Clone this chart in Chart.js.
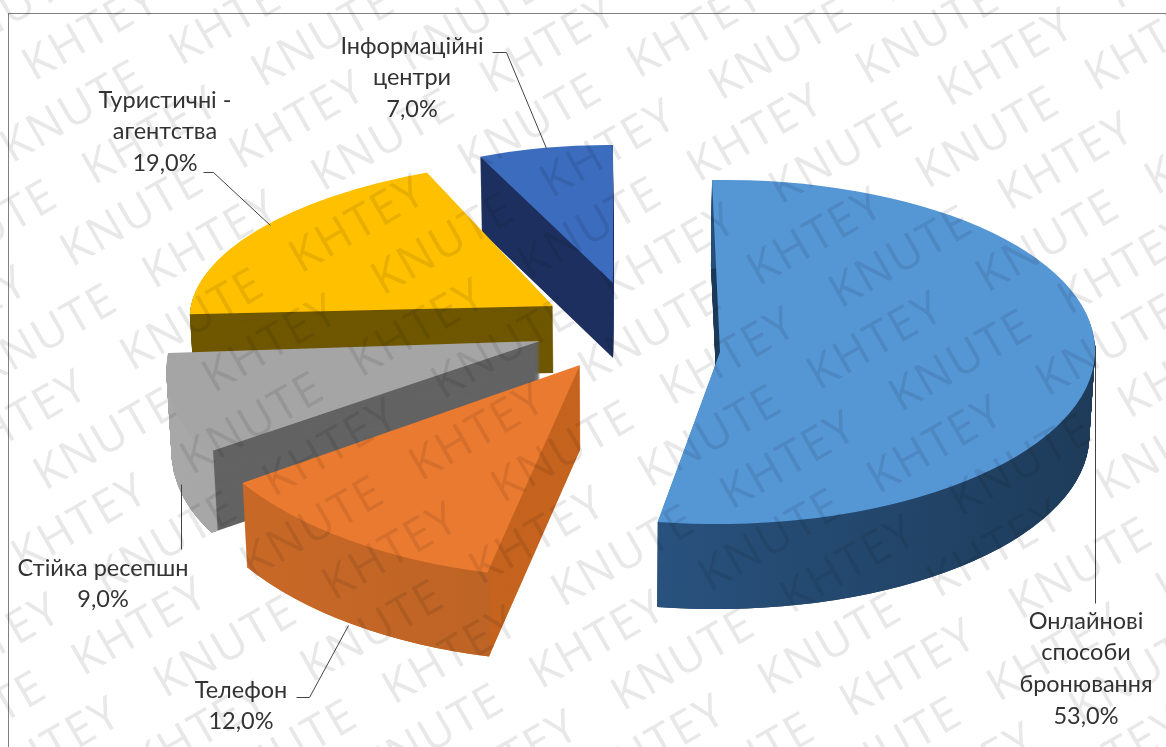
<!DOCTYPE html>
<html><head><meta charset="utf-8">
<title>Способи бронювання</title>
<script src="https://cdn.jsdelivr.net/npm/chart.js"></script>
<style>
html, body { margin: 0; padding: 0; background: #fff; }
canvas { display: block; }
</style>
</head>
<body>
<canvas id="chart" width="1166" height="747"></canvas>
<script>
// slices, clockwise from 12 o'clock
const categories = ['Онлайнові способи бронювання', 'Телефон', 'Стійка ресепшн', 'Туристичні - агентства', 'Інформаційні центри'];
const shares = [53, 12, 9, 19, 7];

const topColors = ['#5596d5', '#ea7a2f', '#a5a5a5', '#ffc000', '#3b6cbd'];
const sideColors = ['#1f3d5c', '#c5641f', '#636363', '#6f5700', '#1c2f5e'];
const rimColors = [['#2f6196', '#1e3b59'], ['#cc6a28', '#a85a20'], ['#a8a8a8', '#9c9c9c'], ['#6f5700', '#6f5700'], ['#1c2f5e', '#1c2f5e']];

// exploded 3D look: each slice gets its own apex, axes and wall height
const apexX = [720, 580, 540, 553, 613];
const apexY = [352, 365, 341, 306, 283];
const axisXX = [375, 405, 369, 362, 312];
const axisXY = [8, -17, -59, -31, 0];
const axisYX = [-5, 9, 0, 1, 3];
const axisYY = [172, 213, 190, 147, 138];
const wallHeight = [85, 84, 80, 67, 75];
const drawOrder = [4, 3, 2, 1, 0];

// label text blocks and their leader lines
const labelLines = [['Онлайнові', 'способи', 'бронювання'], ['Телефон'], ['Стійка ресепшн'], ['Туристичні -', 'агентства'], ['Інформаційні', 'центри']];
const labelX = [1086, 241, 103, 165, 412];
const labelY = [621, 690, 568, 100, 46];
const leaderLines = [
  [[1095, 345], [1095, 603]],
  [[296, 697], [309, 697], [348, 625]],
  [[181, 484], [181, 549]],
  [[203, 172], [213, 172], [270, 225]],
  [[492, 52], [506, 52], [546, 148]]
];

const stampWords = ['KNUTE', 'KHTEY'];

function percentText(v) {
  return v.toFixed(1).replace('.', ',') + '%';
}

const pie3d = {
  id: 'pie3d',
  beforeDatasetDraw(chart) {
    const ctx = chart.ctx;
    const arcs = chart.getDatasetMeta(0).data;

    drawOrder.forEach(i => {
      const arc = arcs[i];
      const R = arc.outerRadius;
      const plain = arc.options;

      const place = dy => {
        ctx.translate(apexX[i], apexY[i] + dy);
        // walls narrow a little towards the bottom
        const shrink = 1 - 0.012 * dy / 85;
        ctx.translate((620 - apexX[i]) * (1 - shrink), 0);
        ctx.scale(shrink, 1);
        ctx.transform(axisXX[i] / R, axisYX[i] / R, axisXY[i] / R, axisYY[i] / R, 0, 0);
        ctx.translate(-arc.x, -arc.y);
      };
      const drawLayer = (dy, fill) => {
        const o = Object.create(plain);
        o.backgroundColor = fill;
        arc.options = o;
        ctx.save();
        place(dy);
        arc.draw(ctx);
        ctx.restore();
      };

      // flat walls along the cut edges
      for (let t = wallHeight[i]; t > 0; t--) drawLayer(t, sideColors[i]);

      // curved wall along the rim
      const rim = ctx.createLinearGradient(arc.x - R, 0, arc.x + R, 0);
      rim.addColorStop(0, rimColors[i][0]);
      rim.addColorStop(1, rimColors[i][1]);
      const inner = arc.innerRadius;
      arc.innerRadius = R * 0.98;
      for (let t = wallHeight[i]; t > 0; t--) drawLayer(t, rim);
      arc.innerRadius = inner;

      arc.options = plain;
      ctx.save();
      place(0);
      arc.draw(ctx);
      ctx.restore();
    });
    return false;
  },
  afterDatasetsDraw(chart) {
    const ctx = chart.ctx;
    ctx.save();

    // frame
    ctx.strokeStyle = '#808080';
    ctx.lineWidth = 1;
    ctx.strokeRect(8.5, 13.5, 1300, 800);

    // leader lines
    ctx.strokeStyle = '#444';
    leaderLines.forEach(pts => {
      ctx.beginPath();
      pts.forEach((p, k) => k ? ctx.lineTo(p[0] + 0.5, p[1] + 0.5) : ctx.moveTo(p[0] + 0.5, p[1] + 0.5));
      ctx.stroke();
    });

    // labels
    ctx.fillStyle = '#333';
    ctx.font = '23.5px Lato, "Open Sans", sans-serif';
    ctx.textAlign = 'center';
    ctx.textBaseline = 'middle';
    labelLines.forEach((lines, i) => {
      const rows = lines.concat(percentText(shares[i]));
      rows.forEach((t, k) => ctx.fillText(t, labelX[i], labelY[i] + k * 31.7));
    });

    // diagonal stamp over the whole sheet
    ctx.translate(583, 373);
    ctx.rotate(-30 * Math.PI / 180);
    ctx.font = '46px "Open Sans", sans-serif';
    ctx.letterSpacing = '2px';
    ctx.textAlign = 'left';
    ctx.globalCompositeOperation = 'multiply';
    ctx.fillStyle = '#e8e8e8';
    const pitch = 195;
    for (let row = -12; row <= 12; row++) {
      for (let col = -6; col <= 6; col++) {
        const word = stampWords[((row + col) % 2 + 2) % 2];
        ctx.fillText(word, col * pitch + (row % 2 ? 60 : 0), row * 60);
      }
    }
    ctx.restore();
  }
};

new Chart(document.getElementById('chart'), {
  type: 'pie',
  data: {
    labels: categories,
    datasets: [{
      data: shares,
      backgroundColor: topColors,
      borderWidth: 0
    }]
  },
  options: {
    responsive: false,
    animation: false,
    radius: 300,
    plugins: { legend: { display: false }, tooltip: { enabled: false } }
  },
  plugins: [pie3d]
});
</script>
</body></html>
